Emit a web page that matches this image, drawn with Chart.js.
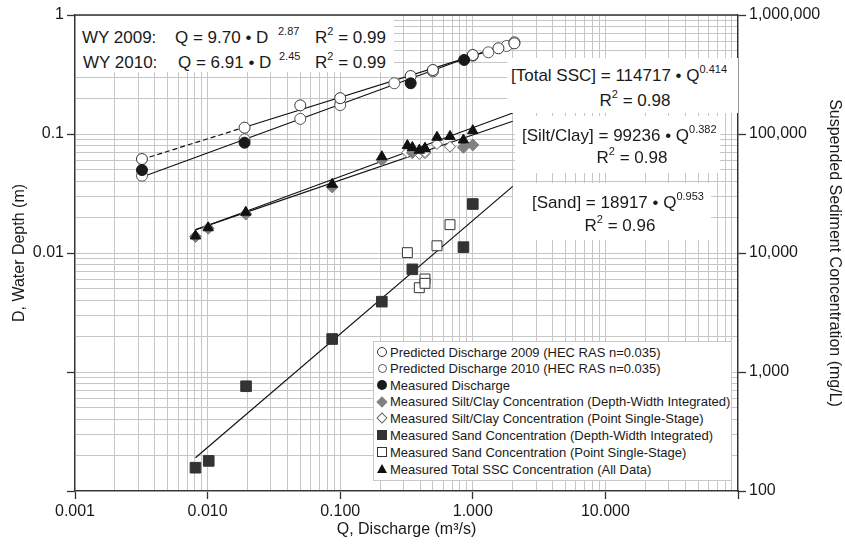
<!DOCTYPE html>
<html>
<head>
<meta charset="utf-8">
<script src="https://cdn.jsdelivr.net/npm/chart.js@4.4.1/dist/chart.umd.min.js"></script>
<style>
html,body{margin:0;padding:0;background:#fff;}
#wrap{position:relative;width:845px;height:553px;font-family:"Liberation Sans",Arial,sans-serif;color:#1a1a1a;overflow:hidden;}
#c{position:absolute;left:0;top:0;}
.box{position:absolute;background:#fff;}
.t{position:absolute;white-space:nowrap;line-height:1;font-size:17px;}
.t sup{font-size:11px;vertical-align:baseline;position:relative;top:-0.75em;line-height:0;}
.ctr{transform:translateX(-50%);}
.lg{position:absolute;left:373px;top:341px;width:359px;height:140px;background:#fff;border:1px solid #c8c8c8;box-sizing:border-box;}
.li{position:absolute;white-space:nowrap;font-size:13px;line-height:1;}
.mk{position:absolute;box-sizing:border-box;}
.oc{width:10px;height:10px;border:1px solid #333;border-radius:50%;background:#fff;}
.oc2{width:9px;height:9px;border:1px solid #555;border-radius:50%;background:#fff;}
.fc{width:10px;height:10px;border-radius:50%;background:#1a1a1a;}
.fd{width:8px;height:8px;background:#808080;transform:rotate(45deg);}
.od{width:8px;height:8px;border:1px solid #666;background:#fff;transform:rotate(45deg);}
.fs{width:10px;height:10px;background:#333;}
.os{width:10px;height:10px;border:1px solid #333;background:#fff;}
.tr{width:0;height:0;border-left:5px solid transparent;border-right:5px solid transparent;border-bottom:9px solid #111;}
</style>
</head>
<body>
<div id="wrap">
<canvas id="c" width="845" height="553"></canvas>

<div class="box" style="left:76px;top:16px;width:318px;height:56px;"></div>
<span class="t" style="left:82px;top:29px;">WY 2009:</span>
<span class="t" style="left:175px;top:29px;">Q = 9.70 • D</span>
<span class="t" style="left:278px;top:29px;"><sup>2.87</sup></span>
<span class="t" style="left:315px;top:29px;">R<sup>2</sup> = 0.99</span>
<span class="t" style="left:83px;top:54px;">WY 2010:</span>
<span class="t" style="left:178px;top:54px;">Q = 6.91 • D</span>
<span class="t" style="left:279px;top:54px;"><sup>2.45</sup></span>
<span class="t" style="left:315px;top:54px;">R<sup>2</sup> = 0.99</span>

<div class="box" style="left:507px;top:58px;width:231px;height:55px;"></div>
<span class="t" style="left:511px;top:67px;">[Total SSC] = 114717 • Q<sup>0.414</sup></span>
<span class="t ctr" style="left:635px;top:92px;">R<sup>2</sup> = 0.98</span>

<div class="box" style="left:515px;top:116px;width:205px;height:57px;"></div>
<span class="t" style="left:522px;top:127px;">[Silt/Clay] = 99236 • Q<sup>0.382</sup></span>
<span class="t ctr" style="left:632px;top:149px;">R<sup>2</sup> = 0.98</span>

<div class="box" style="left:513px;top:183px;width:198px;height:57px;"></div>
<span class="t" style="left:532px;top:194px;">[Sand] = 18917 • Q<sup>0.953</sup></span>
<span class="t ctr" style="left:620px;top:217px;">R<sup>2</sup> = 0.96</span>

<div class="lg"></div>
<div class="mk oc" style="left:377px;top:347px;"></div>
<span class="li" style="left:390px;top:346px;">Predicted Discharge 2009 (HEC RAS n=0.035)</span>
<div class="mk oc2" style="left:378px;top:364px;"></div>
<span class="li" style="left:390px;top:362px;">Predicted Discharge 2010 (HEC RAS n=0.035)</span>
<div class="mk fc" style="left:377px;top:380px;"></div>
<span class="li" style="left:390px;top:379px;">Measured Discharge</span>
<div class="mk fd" style="left:378px;top:398px;"></div>
<span class="li" style="left:390px;top:395px;">Measured Silt/Clay Concentration (Depth-Width Integrated)</span>
<div class="mk od" style="left:378px;top:414px;"></div>
<span class="li" style="left:390px;top:412px;">Measured Silt/Clay Concentration (Point Single-Stage)</span>
<div class="mk fs" style="left:377px;top:430px;"></div>
<span class="li" style="left:390px;top:429px;">Measured Sand Concentration (Depth-Width Integrated)</span>
<div class="mk os" style="left:377px;top:447px;"></div>
<span class="li" style="left:390px;top:446px;">Measured Sand Concentration (Point Single-Stage)</span>
<div class="mk tr" style="left:377px;top:464px;"></div>
<span class="li" style="left:390px;top:463px;">Measured Total SSC Concentration (All Data)</span>
</div>

<script>
// ---- Data ----
// Water depth (left axis) vs discharge
const pred2009Q = [0.0032, 0.019, 0.05, 0.1, 0.34, 0.5, 1.0, 1.56, 2.06];
const pred2009D = [0.0616, 0.113, 0.174, 0.200, 0.307, 0.345, 0.461, 0.525, 0.578];
const pred2010Q = [0.0032, 0.019, 0.05, 0.1, 0.256, 0.5, 1.0, 1.31, 1.8, 2.06];
const pred2010D = [0.0446, 0.090, 0.134, 0.175, 0.267, 0.336, 0.455, 0.486, 0.549, 0.59];
const measQ = [0.0032, 0.019, 0.34, 0.86];
const measD = [0.0498, 0.0845, 0.267, 0.419];

// Concentrations (right axis, mg/L) vs discharge
const siltDwiQ = [0.0081, 0.0101, 0.0194, 0.087, 0.206, 0.35, 0.85, 1.0];
const siltDwiC = [13740, 16120, 21240, 35900, 60500, 69700, 77300, 80900];
const siltPssQ = [0.321, 0.395, 0.436, 0.436, 0.537, 0.673];
const siltPssC = [70000, 68000, 69000, 70500, 82400, 78200];
const sandDwiQ = [0.0081, 0.0102, 0.0195, 0.087, 0.206, 0.35, 0.85, 1.0];
const sandDwiC = [157, 179, 759, 1893, 3900, 7290, 11200, 25800];
const sandPssQ = [0.321, 0.395, 0.436, 0.436, 0.537, 0.673];
const sandPssC = [10070, 5110, 6050, 5560, 11500, 17300];
const totalQ = [0.0081, 0.0101, 0.0194, 0.087, 0.206, 0.321, 0.35, 0.395, 0.436, 0.436, 0.537, 0.673, 0.85, 1.0];
const totalC = [13900, 16300, 22000, 37800, 64400, 80000, 77000, 73100, 75000, 76000, 93900, 95500, 89000, 106700];

// Fitted lines (end points)
const fit2009Q = [0.0032, 0.019, 2.06];
const fit2009D = [0.0612, 0.114, 0.583];
const fit2010Q = [0.0032, 2.06];
const fit2010D = [0.0435, 0.61];
const fitTotalQ = [0.0081, 2.0];
const fitTotalC = [15600, 150000];
const fitSiltQ = [0.0081, 2.0];
const fitSiltC = [15700, 128000];
const fitSandQ = [0.0081, 2.0];
const fitSandC = [190, 36300];

// Axis tick labels
const xTickLabels = ['0.001', '0.010', '0.100', '1.000', '10.000'];
const yLeftTickLabels = ['0.01', '0.1', '1'];
const yRightTickLabels = ['100', '1,000', '10,000', '100,000', '1,000,000'];

function pts(xs, ys) { return xs.map((x, i) => ({x: x, y: ys[i]})); }
function isDecade(v) { const l = Math.log10(v); return Math.abs(l - Math.round(l)) < 1e-9; }
function logTicks(minExp, maxExp) {
  const arr = [];
  for (let e = minExp; e < maxExp; e++) {
    for (let m = 1; m < 10; m++) arr.push({value: Number((m * Math.pow(10, e)).toPrecision(6))});
  }
  arr.push({value: Number(Math.pow(10, maxExp).toPrecision(6))});
  return arr;
}
const FONT = '"Liberation Sans", Arial, sans-serif';
const tickFont = {family: FONT, size: 16};
const titleFont = {family: FONT, size: 16};
const gridCol = '#c6c6c6';
const tickCol = ctx => (ctx.tick && isDecade(ctx.tick.value)) ? '#333' : 'rgba(0,0,0,0)';
function labelFor(list, v, fmt) {
  if (!isDecade(v)) return '';
  const s = fmt(v);
  return list.indexOf(s) >= 0 ? s : '';
}

const topBorder = {
  id: 'topBorder',
  beforeDatasetsDraw(chart) {
    const a = chart.chartArea, ctx = chart.ctx;
    ctx.save();
    ctx.strokeStyle = '#333';
    ctx.lineWidth = 1.3;
    ctx.beginPath();
    ctx.moveTo(a.left, a.top);
    ctx.lineTo(a.right, a.top);
    ctx.stroke();
    ctx.restore();
  }
};

const lineDs = (xs, ys, axis, extra) => Object.assign({
  type: 'line', data: pts(xs, ys), yAxisID: axis, borderColor: '#111', borderWidth: 1.2,
  pointRadius: 0, fill: false, tension: 0
}, extra || {});

new Chart(document.getElementById('c'), {
  type: 'scatter',
  data: {
    datasets: [
      {label: 'Measured Total SSC Concentration (All Data)', data: pts(totalQ, totalC), yAxisID: 'y2',
        pointStyle: 'triangle', pointRadius: 6, backgroundColor: '#111', borderColor: '#111', borderWidth: 1},
      {label: 'Measured Discharge', data: pts(measQ, measD), yAxisID: 'y',
        pointStyle: 'circle', pointRadius: 5.5, backgroundColor: '#1a1a1a', borderColor: '#1a1a1a', borderWidth: 1},
      {label: 'Measured Silt/Clay Concentration (Depth-Width Integrated)', data: pts(siltDwiQ, siltDwiC), yAxisID: 'y2',
        pointStyle: 'rectRot', pointRadius: 6, backgroundColor: '#808080', borderColor: '#808080', borderWidth: 1},
      {label: 'Measured Silt/Clay Concentration (Point Single-Stage)', data: pts(siltPssQ, siltPssC), yAxisID: 'y2',
        pointStyle: 'rectRot', pointRadius: 5.5, backgroundColor: '#fff', borderColor: '#666', borderWidth: 1},
      {label: 'Measured Sand Concentration (Depth-Width Integrated)', data: pts(sandDwiQ, sandDwiC), yAxisID: 'y2',
        pointStyle: 'rect', pointRadius: 7.5, backgroundColor: '#333', borderColor: '#333', borderWidth: 1},
      {label: 'Measured Sand Concentration (Point Single-Stage)', data: pts(sandPssQ, sandPssC), yAxisID: 'y2',
        pointStyle: 'rect', pointRadius: 7, backgroundColor: '#fff', borderColor: '#333', borderWidth: 1},
      {label: 'Predicted Discharge 2009 (HEC RAS n=0.035)', data: pts(pred2009Q, pred2009D), yAxisID: 'y',
        pointStyle: 'circle', pointRadius: 5.5, backgroundColor: '#fff', borderColor: '#333', borderWidth: 1},
      {label: 'Predicted Discharge 2010 (HEC RAS n=0.035)', data: pts(pred2010Q, pred2010D), yAxisID: 'y',
        pointStyle: 'circle', pointRadius: 5.5, backgroundColor: '#fff', borderColor: '#555', borderWidth: 1},
      lineDs(fit2009Q, fit2009D, 'y', {label: 'Fit 2009', segment: {borderDash: ctx => ctx.p0DataIndex === 0 ? [5, 3] : undefined}}),
      lineDs(fit2010Q, fit2010D, 'y', {label: 'Fit 2010'}),
      lineDs(fitTotalQ, fitTotalC, 'y2', {label: 'Fit Total SSC'}),
      lineDs(fitSiltQ, fitSiltC, 'y2', {label: 'Fit Silt/Clay'}),
      lineDs(fitSandQ, fitSandC, 'y2', {label: 'Fit Sand'})
    ]
  },
  options: {
    responsive: false,
    animation: false,
    devicePixelRatio: 1,
    events: [],
    layout: {padding: {top: 15, left: 0, right: 0, bottom: 0}},
    plugins: {legend: {display: false}, tooltip: {enabled: false}, title: {display: false}},
    scales: {
      x: {
        type: 'logarithmic', position: 'bottom', min: 0.001, max: 100,
        afterBuildTicks: s => { s.ticks = logTicks(-3, 2); },
        afterFit: s => { s.height = 62; },
        grid: {color: gridCol, lineWidth: 1, tickLength: 8, tickColor: tickCol, tickWidth: 1.3},
        border: {color: '#333', width: 1.3},
        ticks: {autoSkip: false, maxRotation: 0, minRotation: 0, color: '#1a1a1a', font: tickFont, padding: 3,
          callback: v => labelFor(xTickLabels, v, n => n.toFixed(3))},
        title: {display: true, text: 'Q, Discharge (m³/s)', color: '#1a1a1a', font: titleFont, padding: {top: 0, bottom: 14}}
      },
      y: {
        type: 'logarithmic', position: 'left', min: 0.0001, max: 1,
        afterBuildTicks: s => { s.ticks = logTicks(-4, 0); },
        afterFit: s => { s.width = 75; },
        grid: {color: gridCol, lineWidth: 1, tickLength: 8, tickColor: tickCol, tickWidth: 1.3},
        border: {color: '#333', width: 1.3},
        ticks: {autoSkip: false, color: '#1a1a1a', font: tickFont, padding: 3,
          callback: v => labelFor(yLeftTickLabels, v, n => String(Number(n.toPrecision(3))))},
        title: {display: true, text: 'D, Water Depth (m)', color: '#1a1a1a', font: titleFont, padding: {top: 10, bottom: 0}}
      },
      y2: {
        type: 'logarithmic', position: 'right', min: 100, max: 1000000,
        afterBuildTicks: s => { s.ticks = logTicks(2, 6); },
        afterFit: s => { s.width = 107; },
        grid: {drawOnChartArea: false, tickLength: 8, tickColor: tickCol, tickWidth: 1.3},
        border: {color: '#333', width: 1.3},
        ticks: {autoSkip: false, color: '#1a1a1a', font: tickFont, padding: 3,
          callback: v => labelFor(yRightTickLabels, v, n => Math.round(n).toLocaleString('en-US'))},
        title: {display: true, text: 'Suspended Sediment Concentration (mg/L)', color: '#1a1a1a', font: titleFont, padding: {top: 1, bottom: 0}}
      }
    }
  },
  plugins: [topBorder]
});
</script>
</body>
</html>
